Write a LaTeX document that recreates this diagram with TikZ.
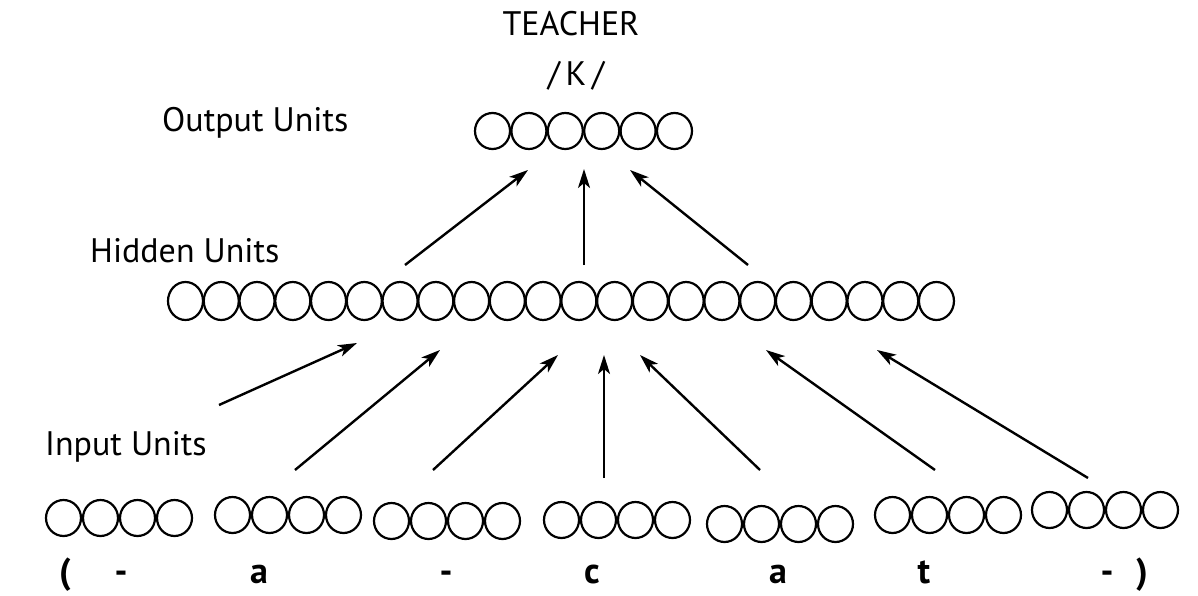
\documentclass[tikz,border=0pt]{standalone}
\usepackage{fontspec}
\setmainfont{PT Sans}
\usetikzlibrary{arrows.meta,shapes.geometric}
\tikzset{
  unit/.style={draw=black, line width=2.2pt, ellipse, minimum width=35pt, minimum height=36pt, inner sep=0pt},
  hunit/.style={unit, minimum height=38pt},
  lab/.style={font=\fontsize{34}{40}\selectfont, anchor=base west, inner sep=0pt},
  letter/.style={font=\bfseries\fontsize{36}{42}\selectfont, anchor=base, inner sep=0pt},
  link/.style={line width=2.4pt, -{Stealth[length=19pt,width=12pt,inset=5pt]}}
}
\begin{document}
\begin{tikzpicture}[x=1pt,y=-1pt]
\useasboundingbox (0,0) rectangle (1198,596);

% teacher signal
\node[font=\fontsize{34}{40}\selectfont, anchor=base, inner sep=0pt] (teacher) at (571,36) {TEACHER};
\node[font=\fontsize{34}{40}\selectfont, anchor=base, inner sep=0pt] (target) at (576,86) {/\,K\,/};

% layer labels
\node[lab] (outlab) at (162,132) {Output Units};
\node[lab] (hidlab) at (90,262) {Hidden Units};
\node[lab] (inlab) at (45,455) {Input Units};

% output layer
\foreach \i in {1,...,6}
  \node[unit] (out\i) at ({492.5+36.4*(\i-1)},131) {};

% hidden layer
\foreach \i in {1,...,22}
  \node[hunit] (hid\i) at ({185.5+35.76*(\i-1)},301) {};

% input layer: seven groups of four units
\foreach \g/\gx/\gy in {1/63.5/518, 2/232.5/515, 3/391.5/521, 4/561.5/520, 5/724.5/524, 6/892.5/515, 7/1049.5/510}
  \foreach \k in {1,...,4}
    \node[unit] (in\g-\k) at ({\gx+37*(\k-1)},\gy) {};

% input characters
\node[letter] (c0) at (65,583) {(};
\node[letter] (c1) at (121,583) {-};
\node[letter] (c2) at (259,583) {a};
\node[letter] (c3) at (446,583) {-};
\node[letter] (c4) at (592,583) {c};
\node[letter] (c5) at (778,583) {a};
\node[letter] (c6) at (924,583) {t};
\node[letter] (c7) at (1107,583) {-};
\node[letter] (c8) at (1142,583) {)};

% arrow end points
\coordinate (ia1) at (219,405); \coordinate (ib1) at (357,343);
\coordinate (ia2) at (295,470); \coordinate (ib2) at (440,350);
\coordinate (ia3) at (433,470); \coordinate (ib3) at (558,355);
\coordinate (ia4) at (604,478); \coordinate (ib4) at (604,355);
\coordinate (ia5) at (760,470); \coordinate (ib5) at (640,355);
\coordinate (ia6) at (935,470); \coordinate (ib6) at (766,350);
\coordinate (ia7) at (1088,478); \coordinate (ib7) at (877,350);

\coordinate (ha1) at (405,265); \coordinate (hb1) at (528,170);
\coordinate (ha2) at (584,265); \coordinate (hb2) at (584,169);
\coordinate (ha3) at (748,265); \coordinate (hb3) at (630,170);

% connections input -> hidden
\foreach \i in {1,...,7}
  \draw[link] (ia\i) -- (ib\i);

% connections hidden -> output
\foreach \i in {1,2,3}
  \draw[link] (ha\i) -- (hb\i);
\end{tikzpicture}
\end{document}
